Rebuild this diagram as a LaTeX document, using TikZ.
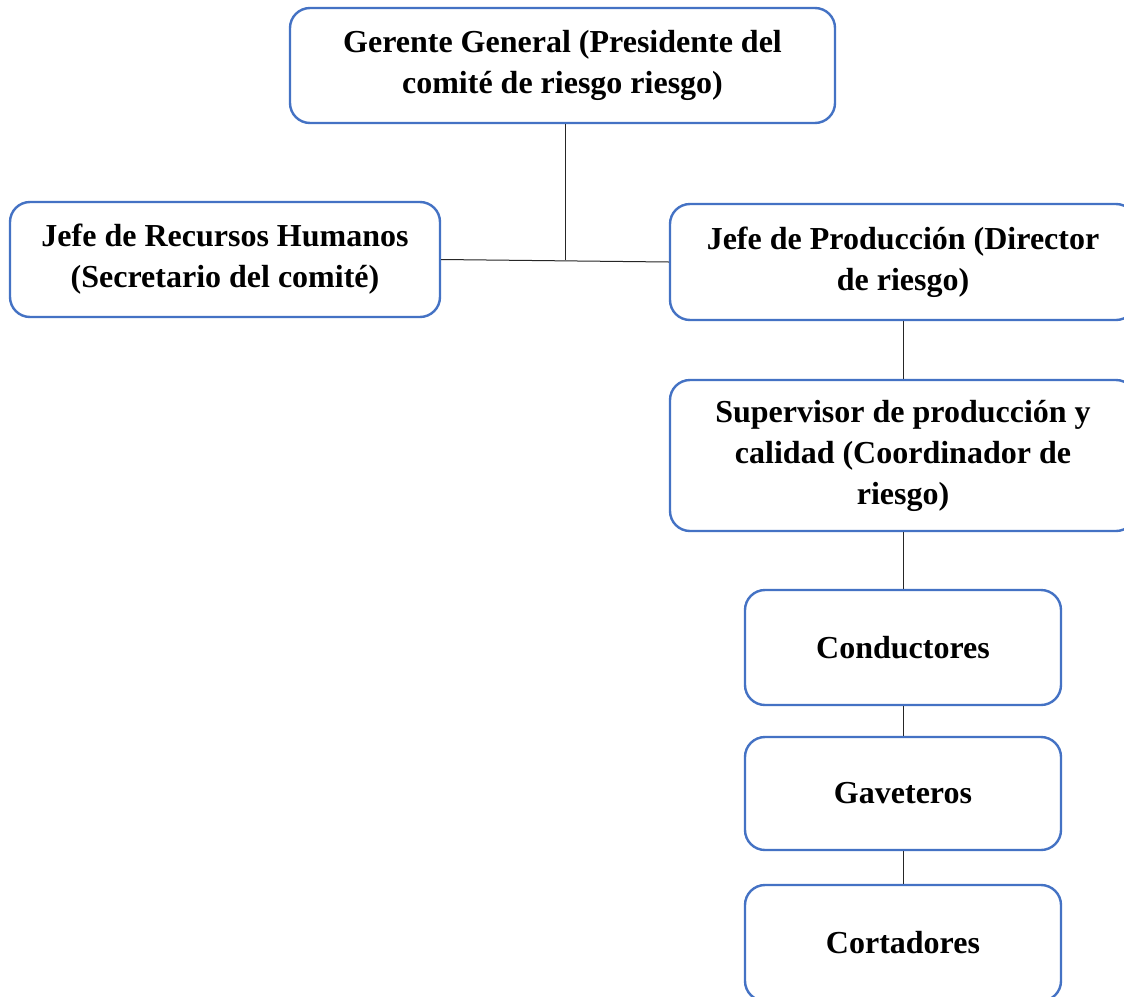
\documentclass[tikz,border=0pt]{standalone}
\usepackage{fontspec}
\setmainfont{Liberation Serif}
\usepackage{tikz}
\definecolor{marco}{HTML}{4472C4}

\begin{document}
\begin{tikzpicture}[x=1pt, y=-1pt,
        cargo/.style={rectangle, rounded corners=20pt, draw=marco, line width=2.4pt, fill=white,
            align=center, inner sep=0pt, font=\bfseries\fontsize{32}{41}\selectfont},
        enlace/.style={draw=black!85, line width=1pt}]
        \useasboundingbox (0,0) rectangle (1124,996);
        \clip (0,0) rectangle (1124,996);
        \fill[white] (0,0) rectangle (1124,996);

        % Nodes
        \node[cargo, minimum width=545pt, minimum height=115pt] (gerente) at (562.5, 65.5) {Gerente General (Presidente del\\comité de riesgo riesgo)};
        \node[cargo, minimum width=430pt, minimum height=115pt] (rrhh) at (225, 259.5) {Jefe de Recursos Humanos\\(Secretario del comité)};
        \node[cargo, minimum width=466pt, minimum height=116pt] (produccion) at (903, 262) {Jefe de Producción (Director\\de riesgo)};
        \node[cargo, minimum width=466pt, minimum height=151pt] (supervisor) at (903, 455.5) {Supervisor de producción y\\calidad (Coordinador de\\riesgo)};
        \node[cargo, minimum width=316pt, minimum height=115pt] (conductores) at (903, 647.5) {Conductores};
        \node[cargo, minimum width=316pt, minimum height=113pt] (gaveteros) at (903, 793.5) {Gaveteros};
        \node[cargo, minimum width=316pt, minimum height=116pt] (cortadores) at (903, 943) {Cortadores};
        \coordinate (union) at (565, 260);

        % Edges
        \draw[enlace] (rrhh.east) -- (produccion.west);
        \draw[enlace] (gerente.south -| union) -- (union);
        \draw[enlace] (produccion.south) -- (supervisor.north);
        \draw[enlace] (supervisor.south) -- (conductores.north);
        \draw[enlace] (conductores.south) -- (gaveteros.north);
        \draw[enlace] (gaveteros.south) -- (cortadores.north);
    \end{tikzpicture}
\end{document}
